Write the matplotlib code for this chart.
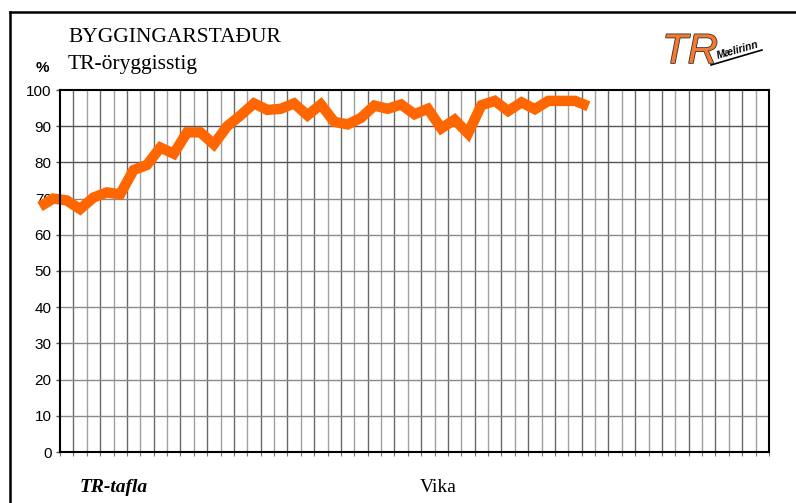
import numpy as np
import matplotlib.pyplot as plt
from matplotlib.lines import Line2D
import matplotlib.patheffects as pe

# Weekly safety level (TR-öryggisstig), in %
weeks = np.arange(-1.5, 40, 1.0)
level = [67.8, 70.0, 69.5, 67.1, 70.3, 71.7, 71.2, 77.9, 79.3, 84.1,
         82.4, 88.3, 88.3, 85.0, 90.0, 93.0, 96.3, 94.5, 94.8, 96.3,
         93.0, 96.0, 91.2, 90.5, 92.3, 95.7, 94.8, 96.0, 93.3, 94.8,
         89.4, 91.8, 88.0, 95.8, 97.0, 94.2, 96.6, 94.7, 97.0, 97.0,
         97.0, 95.5]

n_weeks = 53
yticks = list(range(0, 101, 10))

title = "BYGGINGARSTAÐUR"
subtitle = "TR-öryggisstig"
xlabel = "Vika"
footer = "TR-tafla"

fig = plt.figure(figsize=(7.96, 5.03), dpi=100)
ax = fig.add_axes([60 / 796, 51 / 503, 709 / 796, 362 / 503])

ax.set_xlim(0, n_weeks)
ax.set_ylim(0, 100)

# grid
for x in range(1, n_weeks):
    ax.axvline(x, color='#6a6a6a' if x % 2 else '#a0a0a0', lw=1.0, zorder=1)
for y in yticks[1:-1]:
    ax.axhline(y, color='#555555' if y >= 80 else '#8a8a8a', lw=1.0, zorder=1)

ax.plot(weeks, level, color='#ff6600', lw=7.5, solid_joinstyle='miter',
        solid_capstyle='butt', clip_on=False, zorder=5)

ax.set_yticks(yticks)
ax.set_yticklabels([str(v) for v in yticks], fontsize=11, family='Liberation Sans')
ax.set_xticks(range(0, n_weeks + 1))
ax.set_xticklabels([])
ax.tick_params(axis='x', direction='out', length=3, width=0.8, color='#777777')
ax.tick_params(axis='y', direction='out', length=3, width=1, color='#555555', pad=3)
for s in ax.spines.values():
    s.set_linewidth(1.5)
    s.set_color('black')
    s.set_zorder(6)

# header texts
fig.text(68 / 796, 1 - 38 / 503, title, family='Liberation Serif', fontsize=15.5,
         va='center', ha='left')
fig.text(68 / 796, 1 - 65 / 503, subtitle, family='Liberation Serif', fontsize=15.5,
         va='center', ha='left')
fig.text(42 / 796, 1 - 68 / 503, "%", family='Liberation Sans', fontsize=11,
         fontweight='bold', va='center', ha='center')
fig.text(80 / 796, 1 - 488 / 503, footer, family='Liberation Serif', fontsize=14,
         fontweight='bold', style='italic', va='center', ha='left')
fig.text(420 / 796, 1 - 488 / 503, xlabel, family='Liberation Serif', fontsize=14,
         va='center', ha='left')

# logo
fig.text(690 / 796, 1 - 52 / 503, "TR", family='Liberation Sans', fontsize=30,
         style='italic', color='#f47a30', va='center', ha='center',
         path_effects=[pe.withStroke(linewidth=1.2, foreground='#333333')])
fig.text(738 / 796, 1 - 50 / 503, "Mælirinn", family='Liberation Sans', fontsize=7.5,
         fontweight='bold', style='italic', rotation=16, va='center', ha='center')
fig.add_artist(Line2D([711 / 796, 762 / 796], [1 - 65 / 503, 1 - 50 / 503],
                      color='black', lw=1.2))

# outer frame
fig.add_artist(Line2D([10 / 796, 10 / 796], [0, 1 - 12 / 503], color='black', lw=1.8))
fig.add_artist(Line2D([10 / 796, 1], [1 - 12 / 503, 1 - 12 / 503], color='black', lw=1.8))

fig.savefig("out.png", dpi=100)
